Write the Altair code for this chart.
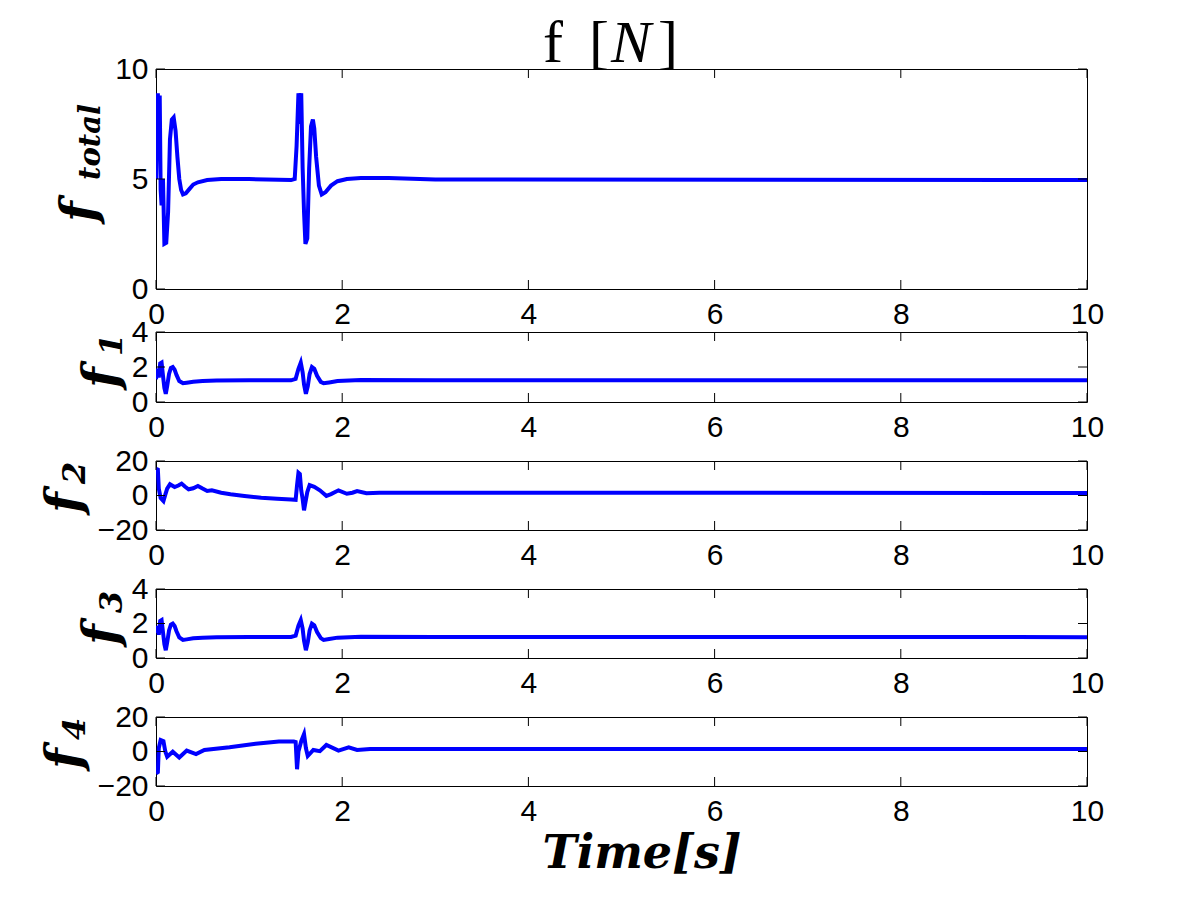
import altair as alt
import pandas as pd

# ---------------- data ----------------
t_total = [0.00, 0.01, 0.02, 0.03, 0.04, 0.05, 0.06, 0.075, 0.09, 0.11,
           0.13, 0.15, 0.17, 0.19, 0.21, 0.23, 0.25, 0.27, 0.29, 0.32,
           0.36, 0.40, 0.45, 0.55, 0.70, 1.00, 1.45, 1.49, 1.51, 1.53,
           1.545, 1.56, 1.575, 1.59, 1.605, 1.625, 1.645, 1.665, 1.685, 1.70,
           1.72, 1.75, 1.78, 1.82, 1.88, 1.95, 2.05, 2.20, 2.50, 3.00,
           10.0]
f_total = [5.0, 7.2, 8.9, 6.0, 8.8, 4.5, 3.8, 5.0, 2.05, 2.1,
           3.5, 6.8, 7.7, 7.8, 7.2, 6.0, 5.0, 4.5, 4.3, 4.35,
           4.55, 4.75, 4.85, 4.95, 5.0, 5.0, 4.95, 5.0, 6.5, 8.9,
           7.5, 8.9, 5.5, 3.5, 2.05, 2.3, 5.5, 7.4, 7.7, 7.3,
           6.0, 4.7, 4.3, 4.4, 4.7, 4.9, 5.0, 5.05, 5.05, 4.98,
           4.95]

t_f1 = [0.00, 0.015, 0.03, 0.045, 0.06, 0.075, 0.09, 0.105, 0.12, 0.14,
        0.16, 0.18, 0.20, 0.22, 0.25, 0.29, 0.33, 0.40, 0.50, 0.65,
        1.00, 1.45, 1.50, 1.53, 1.555, 1.575, 1.59, 1.61, 1.63, 1.65,
        1.675, 1.70, 1.73, 1.77, 1.80, 1.86, 1.95, 2.20, 3.00, 10.0]
f1 = [1.3, 1.9, 1.4, 2.2, 2.25, 1.5, 0.8, 0.47, 0.9, 1.6,
      1.95, 2.0, 1.85, 1.55, 1.2, 1.07, 1.1, 1.16, 1.2, 1.23,
      1.24, 1.24, 1.32, 1.9, 2.25, 1.7, 1.0, 0.47, 0.9, 1.6,
      2.0, 1.9, 1.5, 1.15, 1.07, 1.12, 1.2, 1.26, 1.25, 1.24]

t_f2 = [0.00, 0.02, 0.03, 0.05, 0.08, 0.10, 0.12, 0.15, 0.20, 0.24,
        0.275, 0.31, 0.35, 0.40, 0.45, 0.50, 0.55, 0.60, 0.70, 0.80,
        0.95, 1.13, 1.30, 1.45, 1.50, 1.515, 1.53, 1.545, 1.56, 1.575,
        1.59, 1.605, 1.625, 1.65, 1.70, 1.76, 1.80, 1.83, 1.88, 1.96,
        2.05, 2.11, 2.16, 2.26, 2.40, 10.0]
f2 = [15.5, 15.0, 4.0, -1.5, -3.2, 0.5, 4.0, 6.5, 4.9, 5.8,
      6.9, 5.2, 3.6, 4.2, 5.5, 4.0, 2.6, 3.0, 1.6, 0.7,
      -0.3, -1.3, -1.9, -2.3, -2.5, 6.0, 13.2, 12.5, 3.0, -2.0,
      -8.6, -4.0, 2.0, 6.0, 5.0, 3.0, 1.2, -0.2, 0.8, 3.0,
      1.0, 1.6, 2.6, 1.3, 1.6, 1.5]

t_f3 = [0.00, 0.015, 0.03, 0.045, 0.06, 0.075, 0.09, 0.105, 0.12, 0.14,
        0.16, 0.18, 0.20, 0.22, 0.25, 0.29, 0.33, 0.40, 0.50, 0.65,
        1.00, 1.45, 1.50, 1.53, 1.555, 1.575, 1.59, 1.61, 1.63, 1.65,
        1.675, 1.70, 1.73, 1.77, 1.80, 1.86, 1.95, 2.20, 3.00, 10.0]
f3 = [1.45, 1.85, 1.35, 2.15, 2.2, 1.5, 0.8, 0.45, 0.9, 1.6,
      1.93, 1.99, 1.85, 1.55, 1.2, 1.05, 1.08, 1.14, 1.18, 1.21,
      1.22, 1.22, 1.3, 1.88, 2.2, 1.7, 1.0, 0.45, 0.9, 1.6,
      1.99, 1.9, 1.5, 1.15, 1.05, 1.1, 1.18, 1.23, 1.22, 1.21]

t_f4 = [0.00, 0.02, 0.03, 0.05, 0.08, 0.10, 0.12, 0.18, 0.25, 0.33,
        0.43, 0.52, 0.79, 1.07, 1.32, 1.48, 1.50, 1.515, 1.53, 1.56,
        1.59, 1.61, 1.63, 1.69, 1.76, 1.83, 1.96, 2.07, 2.16, 2.30,
        10.0]
f4 = [-12.7, -12.0, 2.0, 6.7, 6.0, 0.0, -3.0, -0.1, -3.5, 0.5,
      -1.5, 0.9, 2.5, 4.5, 5.8, 5.8, 5.5, -10.3, 0.0, 6.0,
      10.1, 2.0, -2.6, 0.9, 0.2, 3.8, 0.5, 2.4, 0.9, 1.5,
      1.45]

x_ticks = [0, 2, 4, 6, 8, 10]
y_ticks_total = [0, 5, 10]
y_ticks_small = [0, 2, 4]
y_ticks_wide = [-20, 0, 20]

title_parts = ["f", "[", "N", "]"]
x_title = "Time[s]"
y_label_main = "f"
y_label_subs = ["total", "1", "2", "3", "4"]

# ---------------- styling ----------------
W = 931
BLUE = "#0000ff"
TICK_FONT = "Liberation Sans"
LABEL_FONT = "DejaVu Serif"
TITLE_FONT = "Liberation Serif"
one_row = pd.DataFrame({"k": [0]})


def text_mark(txt, x, y, size, font, style="normal", weight="normal",
              align="left", angle=0):
    return alt.Chart(one_row).mark_text(
        text=txt, font=font, fontSize=size, fontStyle=style,
        fontWeight=weight, align=align, baseline="alphabetic",
        angle=angle, color="black",
    ).encode(x=alt.value(x), y=alt.value(y))


def panel(t, v, domain, yticks, H, sub, fx, fy, sy, sub_size, extra=()):
    df = pd.DataFrame({"t": t, "v": v})
    xs = alt.Scale(domain=[0, 10], nice=False, zero=False)
    ys = alt.Scale(domain=domain, nice=False, zero=False)
    xaxis = alt.Axis(values=x_ticks, ticks=False, domain=False, grid=False,
                     labelFont=TICK_FONT, labelFontSize=30, labelColor="black",
                     labelPadding=10, labelFlush=False, labelOverlap=False)
    yaxis = alt.Axis(values=yticks, ticks=False, domain=False, grid=False,
                     labelFont=TICK_FONT, labelFontSize=30, labelColor="black",
                     labelPadding=8, labelFlush=False, labelOverlap=False)
    X = alt.X("t:Q", scale=xs, axis=xaxis, title=None)
    Y = alt.Y("v:Q", scale=ys, axis=yaxis, title=None)
    line = alt.Chart(df).mark_line(color=BLUE, strokeWidth=4, clip=True).encode(
        x=X, y=Y)
    xt = pd.DataFrame({"t": x_ticks})
    yt = pd.DataFrame({"v": yticks})
    rule = dict(color="black", strokeWidth=1)
    xb = alt.Chart(xt).mark_rule(**rule).encode(
        x=X, y=alt.value(H), y2=alt.value(H - 9))
    xtp = alt.Chart(xt).mark_rule(**rule).encode(
        x=X, y=alt.value(0), y2=alt.value(9))
    yl = alt.Chart(yt).mark_rule(**rule).encode(
        y=Y, x=alt.value(0), x2=alt.value(9))
    yr = alt.Chart(yt).mark_rule(**rule).encode(
        y=Y, x=alt.value(W - 9), x2=alt.value(W))
    lab_f = text_mark(y_label_main, fx, fy, 48, LABEL_FONT, "italic", "bold",
                      "left", 270)
    lab_s = text_mark(sub, fx + 5, sy, sub_size, LABEL_FONT, "italic", "bold",
                      "left", 270)
    layers = [line, xb, xtp, yl, yr, lab_f, lab_s] + list(extra)
    return alt.layer(*layers).properties(width=W, height=H)


title_marks = [
    text_mark(title_parts[0], 387, -7, 60, TITLE_FONT),
    text_mark(title_parts[1], 433, -7, 60, TITLE_FONT),
    text_mark(title_parts[2], 475, -7, 60, TITLE_FONT, "italic", align="center"),
    text_mark(title_parts[3], 502, -7, 60, TITLE_FONT),
]
xtitle_mark = [text_mark(x_title, 486, 69 + 82, 46, LABEL_FONT, "italic", "bold",
                         "center")]

p1 = panel(t_total, f_total, [0, 10], y_ticks_total, 220, y_label_subs[0],
           -61, 153, 111, 29, title_marks)
p2 = panel(t_f1, f1, [0, 4], y_ticks_small, 70, y_label_subs[1],
           -39, 56, 24, 32)
p3 = panel(t_f2, f2, [-20, 20], y_ticks_wide, 69, y_label_subs[2],
           -76, 52, 23, 32)
p4 = panel(t_f3, f3, [0, 4], y_ticks_small, 69, y_label_subs[3],
           -39, 56, 24, 32)
p5 = panel(t_f4, f4, [-20, 20], y_ticks_wide, 69, y_label_subs[4],
           -76, 52, 23, 32, xtitle_mark)

inner = alt.vconcat(p2, p3, p4, p5, spacing=59, bounds="flush")
chart = alt.vconcat(p1, inner, spacing=43, bounds="flush").properties(
    padding={"left": 33, "top": 5, "right": 5, "bottom": 5},
    background="white",
).configure_view(stroke="black", strokeWidth=1)

chart.save("out.html", embed_options={"renderer": "svg", "actions": False})
